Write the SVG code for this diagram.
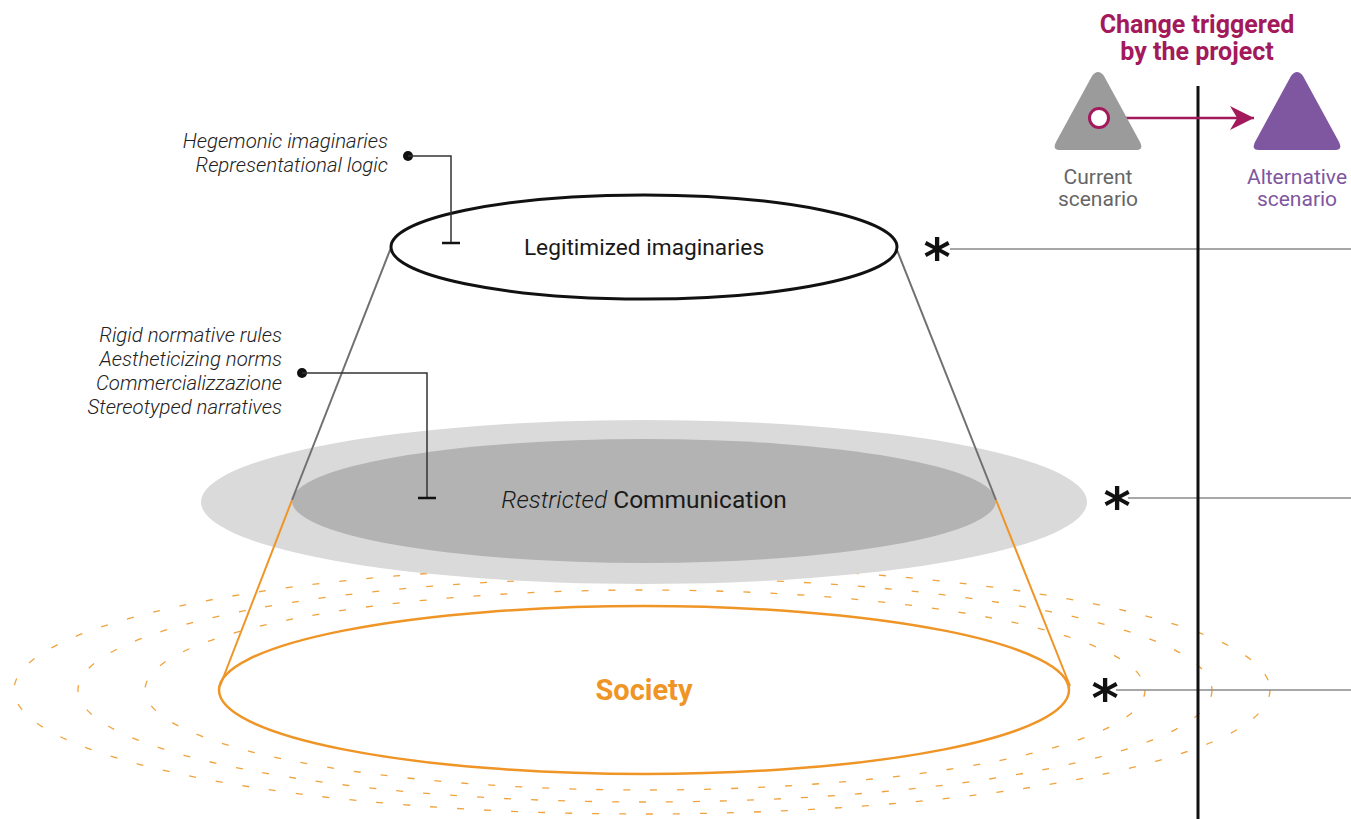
<svg xmlns="http://www.w3.org/2000/svg" width="1351" height="819" viewBox="0 0 1351 819">
<defs>
<style>
.lbl{font-family:Roboto,"Open Sans",sans-serif;fill:#1a1a1a}
.it{font-style:italic;font-weight:300;font-size:20.4px;text-anchor:end;fill:#222}
.ast{font-family:"DejaVu Sans",sans-serif;font-weight:bold;font-size:52px;fill:#111;text-anchor:middle}
.dash{fill:none;stroke:#f0a33c;stroke-width:1.3;stroke-dasharray:7 20}
.hline{stroke:#8a8a8a;stroke-width:1.5}
.call{fill:none;stroke:#333;stroke-width:1.5}
</style>
<marker id="arr" viewBox="0 0 10 10" refX="10" refY="5" markerWidth="24" markerHeight="24" orient="auto" markerUnits="userSpaceOnUse">
<path d="M0,0 L10,5 L0,10 L3,5 Z" fill="#a3195b"/>
</marker>
</defs>
<rect width="1351" height="819" fill="#fff"/>

<g id="society-ripples">
<ellipse class="dash" cx="642" cy="690" rx="628" ry="124"/>
<ellipse class="dash" cx="645" cy="690" rx="567" ry="112"/>
<ellipse class="dash" cx="645" cy="690" rx="500" ry="100"/>
</g>

<g id="communication">
<ellipse cx="644" cy="502" rx="443" ry="82" fill="#dadada"/>
<ellipse cx="644" cy="501" rx="352" ry="62" fill="#b3b3b3"/>
<text class="lbl" x="644" y="508" font-size="24.5" text-anchor="middle"><tspan font-style="italic" font-weight="300">Restricted</tspan> Communication</text>
</g>

<g id="cone">
<line x1="392" y1="245" x2="292" y2="500" stroke="#707070" stroke-width="2"/>
<line x1="292" y1="500" x2="220" y2="686" stroke="#ef9526" stroke-width="2"/>
<line x1="897" y1="250" x2="996" y2="500" stroke="#707070" stroke-width="2"/>
<line x1="996" y1="500" x2="1070" y2="686" stroke="#ef9526" stroke-width="2"/>
</g>

<g id="legitimized">
<ellipse cx="644" cy="247" rx="253" ry="52" fill="#fff" stroke="#111" stroke-width="3"/>
<text class="lbl" x="644" y="255" font-size="22.7" text-anchor="middle">Legitimized imaginaries</text>
</g>

<g id="society">
<ellipse cx="644" cy="690" rx="425" ry="84" fill="none" stroke="#ef9526" stroke-width="2.5"/>
<text x="644" y="700" font-family="Roboto,'Open Sans',sans-serif" font-weight="bold" font-size="29" fill="#ef9526" text-anchor="middle">Society</text>
</g>

<g id="callout-hegemonic">
<text class="lbl it" x="388" y="148">Hegemonic imaginaries</text>
<text class="lbl it" x="388" y="172">Representational logic</text>
</g>
<g id="callout-rules">
<text class="lbl it" x="282" y="342">Rigid normative rules</text>
<text class="lbl it" x="282" y="366">Aestheticizing norms</text>
<text class="lbl it" x="282" y="390">Commercializzazione</text>
<text class="lbl it" x="282" y="414">Stereotyped narratives</text>
</g>

<g id="connectors">
<circle cx="408" cy="156" r="5" fill="#111"/>
<polyline class="call" points="408,156 451,156 451,243"/>
<line x1="442" y1="243" x2="460" y2="243" stroke="#111" stroke-width="2.5"/>
<circle cx="302" cy="373" r="5" fill="#111"/>
<polyline class="call" points="302,373 427,373 427,498"/>
<line x1="418" y1="498" x2="436" y2="498" stroke="#111" stroke-width="2.5"/>
<line class="hline" x1="950" y1="249" x2="1351" y2="249"/>
<line class="hline" x1="1128" y1="498" x2="1351" y2="498"/>
<line class="hline" x1="1116" y1="690" x2="1351" y2="690"/>
<line x1="1198" y1="86" x2="1198" y2="819" stroke="#111" stroke-width="3"/>
<line x1="1109" y1="118" x2="1254" y2="118" stroke="#a3195b" stroke-width="2.5" marker-end="url(#arr)"/>
</g>

<g id="asterisks">
<text class="ast" x="937" y="275">*</text>
<text class="ast" x="1117" y="524">*</text>
<text class="ast" x="1105" y="716">*</text>
</g>

<g id="title">
<text x="1197" y="33" font-family="Roboto,'Open Sans',sans-serif" font-weight="bold" font-size="25" fill="#a3195b" text-anchor="middle">Change triggered</text>
<text x="1197" y="60" font-family="Roboto,'Open Sans',sans-serif" font-weight="bold" font-size="25" fill="#a3195b" text-anchor="middle">by the project</text>
</g>

<g id="current-scenario">
<path d="M1092,76 Q1098,68 1104,76 L1140,142 Q1144,150 1136,150 L1060,150 Q1052,150 1056,142 Z" fill="#9b9b9b"/>
<circle cx="1099" cy="118" r="9.5" fill="#fff" stroke="#a3195b" stroke-width="3"/>
<text class="lbl" x="1098" y="184" font-size="21" text-anchor="middle" style="fill:#666">Current</text>
<text class="lbl" x="1098" y="206" font-size="21" text-anchor="middle" style="fill:#666">scenario</text>
</g>

<g id="alternative-scenario">
<path d="M1291,76 Q1297,68 1303,76 L1339,142 Q1343,150 1335,150 L1259,150 Q1251,150 1255,142 Z" fill="#7f56a0"/>
<text class="lbl" x="1297" y="184" font-size="21" text-anchor="middle" style="fill:#7f56a0">Alternative</text>
<text class="lbl" x="1297" y="206" font-size="21" text-anchor="middle" style="fill:#7f56a0">scenario</text>
</g>
</svg>
